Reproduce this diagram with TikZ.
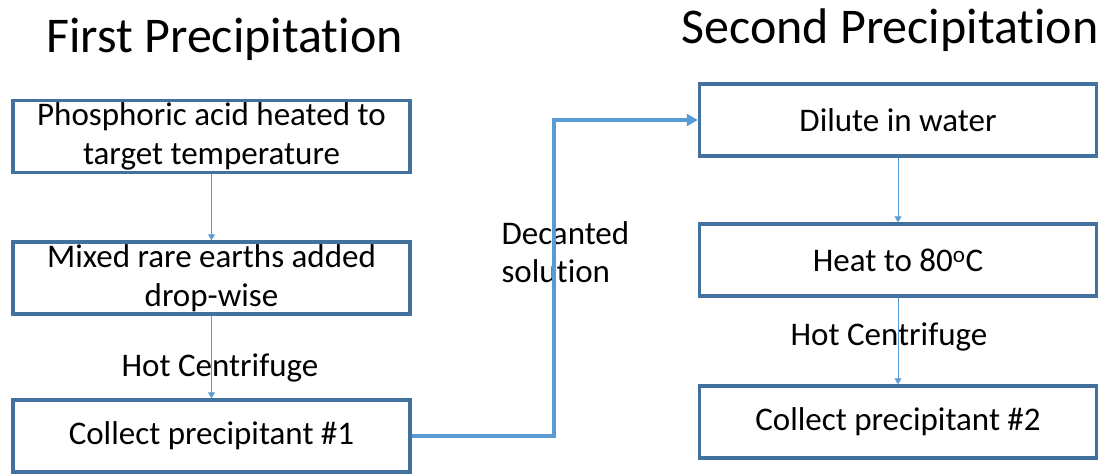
\documentclass[tikz,border=0pt]{standalone}
\usepackage{fontspec}
\setmainfont{Carlito}[Ligatures=NoCommon]
\definecolor{boxblue}{RGB}{65,113,156}
\definecolor{flowblue}{RGB}{91,155,213}
\usetikzlibrary{arrows.meta,positioning}

\begin{document}
\begin{tikzpicture}[x=1pt,y=1pt,
    stepbox/.style={draw=boxblue,line width=3.5pt,minimum width=397pt,minimum height=72pt,inner sep=0pt,align=center,font=\fontsize{33}{38.5}\selectfont},
    heading/.style={font=\fontsize{50}{58}\selectfont,anchor=base},
    note/.style={font=\fontsize{33}{38.5}\selectfont,align=left},
    arr/.style={-{Triangle[length=6pt,width=7pt]},flowblue,line width=1pt},
    bigarr/.style={-{Triangle[length=11pt,width=12pt]},flowblue,line width=3.5pt}]
    \useasboundingbox (0,0) rectangle (1106,-475);
    \node[heading] (first) at (224.5,-52) {First Precipitation};
    \node[heading] (second) at (890,-43) {Second Precipitation};
    \node[stepbox] (acid) at (211.5,-136.5) {Phosphoric acid heated to\\target temperature};
    \node[stepbox,below=66pt of acid] (mix) {Mixed rare earths added\\drop-wise};
    \node[stepbox,below=82.5pt of mix] (collectA) {Collect precipitant \#1};
    \node[stepbox] (dilute) at (898,-120) {Dilute in water};
    \node[stepbox,below=64.5pt of dilute] (heat) {Heat to 80\textsuperscript{o}C};
    \node[stepbox,below=86.5pt of heat] (collectB) {Collect precipitant \#2};
    \node[note] (spinA) at (220,-368) {Hot Centrifuge};
    \node[note] (spinB) at (889,-337) {Hot Centrifuge};
    \node[note,anchor=west] (decant) at (498,-252) {Decanted\\solution};
    \draw[arr] (acid)--(mix); \draw[arr] (mix)--(collectA);
    \draw[arr] (dilute)--(heat); \draw[arr] (heat)--(collectB);
    \draw[bigarr] (collectA.east)--++(142,0)|-(dilute.west);
  \end{tikzpicture}
\end{document}
